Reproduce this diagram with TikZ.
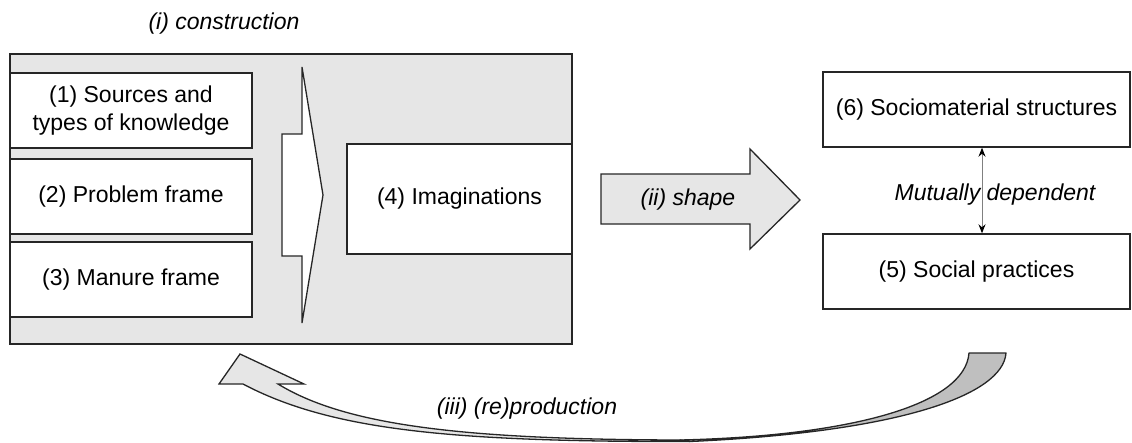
\documentclass[tikz,border=0pt]{standalone}
\usepackage{fontspec}
\setmainfont{Liberation Sans}
\usetikzlibrary{arrows.meta}
\definecolor{lightgr}{HTML}{E6E6E6}
\definecolor{darkgr}{HTML}{BFBFBF}
\definecolor{edge}{HTML}{262626}
\tikzset{
  box/.style={draw=edge, line width=1.4pt, fill=white, inner sep=0pt, align=center},
  graybox/.style={draw=edge, line width=1.4pt, fill=lightgr, inner sep=0pt},
  lbl/.style={font=\itshape, inner sep=0pt},
  blockarrow/.style={draw=edge, line width=1.3pt, line join=miter},
  dep/.style={draw=gray, line width=0.9pt, {Stealth[black,length=9pt,width=7pt]}-{Stealth[black,length=9pt,width=7pt]}}
}
\begin{document}
\begin{tikzpicture}[x=1pt,y=-1pt, every node/.style={font=\fontsize{23}{27.5}\selectfont}]
\useasboundingbox (0,0) rectangle (1132,442);
% construction area
\node[graybox, minimum width=562, minimum height=290] (con) at (291,199) {};
\node[lbl] (tcon) at (224,24) {\fontsize{23}{27.5}\selectfont\itshape (i) construction};
\node[box, minimum width=242, minimum height=75] (b1) at (131,110.5) {(1) Sources and\\types of knowledge};
\node[box, minimum width=242, minimum height=75] (b2) at (131,196.5) {(2) Problem frame};
\node[box, minimum width=242, minimum height=75] (b3) at (131,279.5) {(3) Manure frame};
\node[box, minimum width=225, minimum height=110] (b4) at (459.5,199) {(4) Imaginations};
% white block arrow
\draw[blockarrow, fill=white] (282,134) -- (302,134) -- (302,67) -- (323,195) -- (302,323) -- (302,256) -- (282,256) -- cycle;
% shape arrow
\draw[blockarrow, fill=lightgr] (601,174) -- (750,174) -- (750,149) -- (800,200) -- (750,249) -- (750,224) -- (601,224) -- cycle;
\node[lbl] (tshape) at (688,200) {\fontsize{23}{27.5}\selectfont\itshape (ii) shape};
% right boxes
\node[box, minimum width=307, minimum height=75] (b6) at (976.5,109.5) {(6) Sociomaterial structures};
\node[box, minimum width=307, minimum height=75] (b5) at (976.5,271.5) {(5) Social practices};
\draw[dep] ([xshift=5.5pt]b6.south) -- ([xshift=5.5pt]b5.north);
\node[lbl] (tmut) at (995,195) {\fontsize{23}{27.5}\selectfont\itshape Mutually dependent};
% curved (re)production arrow
\draw[blockarrow, fill=darkgr, line join=round] (680,440) .. controls (850,436) and (965,405) .. (969,353) -- (1006,353) .. controls (1003,395) and (900,432) .. (690,441.5) -- cycle;
\draw[blockarrow, fill=lightgr, line join=miter] (240,354) -- (304,384) -- (278,384) .. controls (345,425) and (460,439.5) .. (680,440) -- (690,441.5) .. controls (450,442) and (330,430) .. (243,384) -- (219,384) -- cycle;
\node[lbl] (trep) at (527,409) {\fontsize{23}{27.5}\selectfont\itshape (iii) (re)production};
\end{tikzpicture}
\end{document}
